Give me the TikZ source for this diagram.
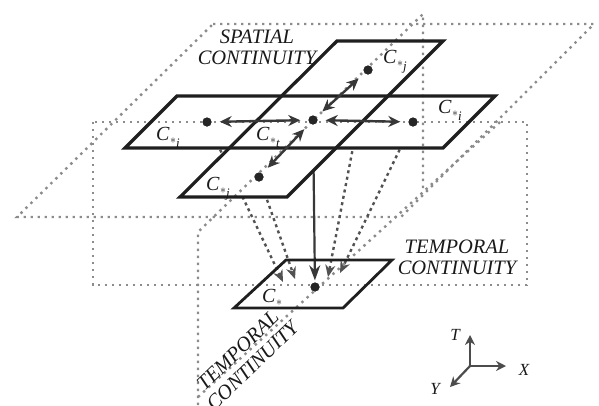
\documentclass[tikz,border=0pt]{standalone}
\usepackage{fontspec}
\setmainfont{Liberation Serif}
\usetikzlibrary{arrows.meta}
\pgfdeclarelayer{bg}
\pgfsetlayers{bg,main}
\newcommand\cellname[1]{\textit{C}\kern0.3pt\raisebox{-3pt}{\fontsize{12}{12}\selectfont$\ast$}\raisebox{-7pt}{\fontsize{13}{13}\selectfont\textit{#1}}}
\begin{document}
\begin{tikzpicture}[x=1pt,y=-1pt,
  plane/.style={draw=black!88, line width=3.2pt, line join=miter},
  planefill/.style={fill=white},
  dotline/.style={draw=black!45, line width=2.4pt, dash pattern=on 2.4pt off 4.6pt},
  conv/.style={draw=black!68, line width=2.4pt, dash pattern=on 3pt off 3.5pt, -{Stealth[length=12pt,width=10pt]}},
  vert/.style={draw=black!78, line width=2.2pt, -{Stealth[length=15pt,width=11pt]}, shorten >=2pt},
  dbl/.style={draw=black!78, line width=2.4pt, {Stealth[length=12pt,width=11pt]}-{Stealth[length=12pt,width=11pt]}, shorten >=8pt, shorten <=8pt},
  pt/.style={circle, fill=black!85, inner sep=0pt, minimum size=9pt},
  lab/.style={font=\fontsize{20.5}{21}\selectfont\itshape, align=center, inner sep=0pt, text=black!90},
  clab/.style={font=\fontsize{20}{22}\selectfont, inner sep=0pt, anchor=base west, text=black!90},
  axlab/.style={font=\fontsize{17}{18}\selectfont\itshape, inner sep=0pt, text=black!90},
  axis/.style={draw=black!70, line width=2.2pt, -{Stealth[length=10pt,width=10pt]}}
]
\useasboundingbox (0,0) rectangle (599,405);

% dots
\node[pt] (dL) at (207,122) {};
\node[pt] (dC) at (313,120) {};
\node[pt] (dR) at (413,122) {};
\node[pt] (dT) at (368,70) {};
\node[pt] (dB) at (259,177) {};
\node[pt] (dS) at (315,287) {};
% arrow targets around C*
\coordinate (tA) at (283,282);
\coordinate (tB) at (295,279);
\coordinate (tC) at (328,277);
\coordinate (tD) at (340,273);

\begin{pgfonlayer}{bg}
  % large upper dotted plane
  \draw[dotline] (213,24) -- (594,24) -- (401,217) -- (17,217) -- cycle;
  % converging links to C*
  \draw[conv] (dL) -- (tA);
  \draw[conv] (dB) -- (tB);
  \draw[conv] (dT) -- (tC);
  \draw[conv] (dR) -- (tD);
  \draw[vert] (dC) -- (dS);
  % opaque planes
  \fill[planefill] (125,148) -- (443,148) -- (495,96) -- (177,96) -- cycle;
  \fill[planefill] (180,197) -- (287,197) -- (443,41) -- (337,41) -- cycle;
\end{pgfonlayer}

% XT dotted frame
\draw[dotline] (93,122) rectangle (527,285);
% YT dotted frame
\draw[dotline] (198,405) -- (198,232) -- (423,14) -- (423,192);
\draw[dotline] (198,397) -- (500,122);

% solid planes
\draw[plane] (125,148) -- (443,148) -- (495,96) -- (177,96) -- cycle;
\draw[plane] (180,197) -- (287,197) -- (443,41) -- (337,41) -- cycle;
\draw[plane, line width=2.8pt] (234,308) -- (343,308) -- (392,260) -- (286,260) -- cycle;

% redraw dots on top
\foreach \n in {dL,dC,dR,dT,dB,dS} \fill[black!85] (\n) circle (4.5pt);

% double arrows
\draw[dbl] (dL) -- (dC);
\draw[dbl] (dC) -- (dR);
\draw[dbl] (dC) -- (dT);
\draw[dbl] (dC) -- (dB);

% cell labels
\node[clab] (lL) at (156,140) {\cellname{i}};
\node[clab] (lC) at (256,140) {\cellname{t}};
\node[clab] (lR) at (438,113) {\cellname{i}};
\node[clab] (lT) at (383,63) {\cellname{j}};
\node[clab] (lB) at (206,190) {\cellname{j}};
\node[clab] (lS) at (262,302) {\textit{C}\kern0.3pt\raisebox{-3pt}{\fontsize{12}{12}\selectfont$\ast$}};

% text labels
\node[lab] (sp) at (257,47) {SPATIAL\\CONTINUITY};
\node[lab] (tp) at (457,257) {TEMPORAL\\CONTINUITY};
\node[lab, rotate=44] (tp2) at (245,358) {TEMPORAL\\CONTINUITY};

% axes
\coordinate (o) at (470,366);
\coordinate (aT) at (470,335);
\coordinate (aX) at (506,366);
\coordinate (aY) at (450,387);
\draw[axis] (o) -- (aT);
\draw[axis] (o) -- (aX);
\draw[axis] (o) -- (aY);
\node[axlab] (tT) at (455,335) {T};
\node[axlab] (tX) at (524,370) {X};
\node[axlab] (tY) at (435,389) {Y};
\end{tikzpicture}
\end{document}
